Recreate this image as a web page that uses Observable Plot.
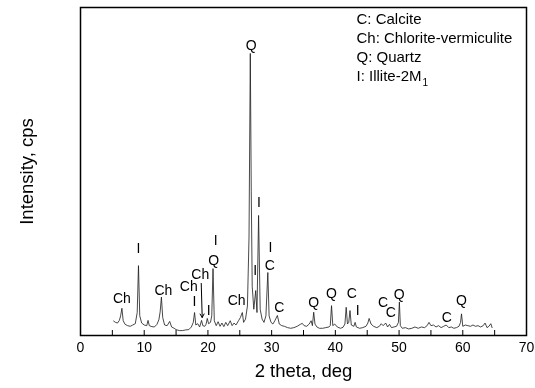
<!DOCTYPE html>
<html><head><meta charset="utf-8">
<script src="https://cdn.jsdelivr.net/npm/d3@7"></script>
<script src="https://cdn.jsdelivr.net/npm/@observablehq/plot@0.6"></script>
<style>
body{margin:0;background:#fff;}
svg{display:block;font-family:"Liberation Sans",Arial,sans-serif;filter:grayscale(1);}
</style>
</head><body><div id="chart"></div>
<script>
// XRD pattern (2θ in degrees, intensity in arbitrary cps units)
const twoTheta = [5.2,5.5,5.8,6.1,6.3,6.5,6.7,7.0,7.4,7.8,8.2,8.6,8.9,9.1,9.3,9.6,10.0,10.4,10.6,10.8,11.2,11.6,12.0,12.3,12.5,12.7,12.9,13.2,13.6,14.0,14.3,14.7,15.0,15.5,16.0,16.5,17.0,17.4,17.7,17.9,18.1,18.4,18.7,19.0,19.2,19.5,19.7,19.9,20.1,20.4,20.6,20.8,21.0,21.3,21.6,21.9,22.2,22.5,22.8,23.1,23.5,23.8,24.1,24.4,24.8,25.1,25.4,25.6,25.9,26.2,26.45,26.65,26.8,26.95,27.2,27.5,27.7,27.95,28.2,28.5,28.8,29.1,29.4,29.6,29.9,30.2,30.5,30.9,31.2,31.6,32.0,32.5,33.0,33.5,34.0,34.5,34.8,35.1,35.5,35.9,36.2,36.4,36.6,36.8,37.1,37.5,38.0,38.5,39.0,39.2,39.4,39.6,39.9,40.3,40.8,41.2,41.5,41.7,41.9,42.1,42.3,42.5,42.9,43.1,43.3,43.8,44.3,44.8,45.1,45.3,45.6,46.0,46.5,46.9,47.2,47.5,47.9,48.2,48.5,48.8,49.2,49.6,49.9,50.05,50.2,50.5,51.0,51.5,52.0,52.5,53.0,53.5,54.0,54.4,54.7,55.0,55.4,55.8,56.2,56.6,57.0,57.4,57.8,58.2,58.6,59.0,59.4,59.65,59.8,60.0,60.4,60.8,61.2,61.6,62.0,62.4,62.8,63.2,63.5,63.8,64.1,64.4,64.6];
const intensity = [44,40,38,46,60,83,45,34,30,28,32,36,70,213,60,38,32,30,46,30,27,26,34,48,72,117,55,32,30,43,26,22,18,15,15,17,18,26,40,70,32,36,26,46,30,28,34,52,36,40,60,204,45,30,42,28,38,27,40,30,45,30,38,32,45,55,70,40,50,90,300,860,440,150,80,137,70,366,80,50,40,60,192,60,40,35,45,61,35,30,28,24,22,24,28,34,37,30,28,35,45,30,71,35,26,22,22,24,26,30,91,30,35,26,22,25,35,86,35,40,76,32,28,40,26,22,24,28,38,52,35,28,24,28,36,30,38,26,34,24,26,28,40,102,30,22,24,20,22,26,22,26,24,30,40,30,32,26,30,24,28,32,24,26,22,24,28,40,66,28,32,30,28,32,28,30,26,30,38,24,28,36,24];

const xTickValues = [0,10,20,30,40,50,60,70];
const minorTickValues = [5,15,25,35,45,55,65];

// peak annotations: text, 2θ, height (cps units)
const peakText  = ["Ch","I","Ch","Ch","I","Ch","I","Q","I","Ch","Q","I","I","I","C","C","Q","Q","C","I","C","C","Q","C","Q"];
const peakTheta = [6.5,9.1,13.0,17.0,17.9,18.8,20.1,20.9,21.2,24.5,26.8,27.4,28.0,29.8,29.7,31.2,36.6,39.4,42.6,43.5,47.5,48.7,50.0,57.5,59.8];
const peakLevel = [113,265,137,148,104,185,76,229,290,107,884,198,406,268,213,86,102,129,127,76,102,71,124,56,107];

// arrow from the upper "Ch" label down to its peak
const arrowTheta = [18.95, 19.1];
const arrowLevel = [159, 55];

const legendLines = ["C: Calcite","Ch: Chlorite-vermiculite","Q: Quartz","I: Illite-2M"];
const legendSub = "1";

const xLabel = "2 theta, deg";
const yLabel = "Intensity, cps";

const pattern = twoTheta.map((t, i) => ({t, v: intensity[i]}));
const peaks = peakText.map((s, i) => ({s, t: peakTheta[i], v: peakLevel[i]}));

const legendMarks = legendLines.map((s, i) =>
  Plot.text([s], {frameAnchor: "top-left", dx: 276, dy: 12 + i * 19, textAnchor: "start", lineAnchor: "middle", fontSize: 15, fill: "#000"})
);

const chart = Plot.plot({
  width: 535,
  height: 388,
  marginLeft: 80,
  marginRight: 9,
  marginTop: 7,
  marginBottom: 53,
  style: {fontFamily: "Liberation Sans, Arial, sans-serif", background: "#fff"},
  x: {domain: [0, 70]},
  y: {domain: [0, 1000]},
  marks: [
    Plot.line(pattern, {x: "t", y: "v", stroke: "#1a1a1a", strokeWidth: 0.8}),
    Plot.ruleX(xTickValues, {x: d => d, insetTop: 323, stroke: "#000", strokeWidth: 1}),
    Plot.ruleX(minorTickValues, {x: d => d, insetTop: 323, stroke: "#000", strokeWidth: 1}),
    Plot.frame({stroke: "#000", strokeWidth: 1.5}),
    Plot.axisX({ticks: xTickValues, tickSize: 0, tickPadding: 7, fontSize: 14, label: null, tickFormat: d => String(d)}),
    Plot.axisY({ticks: [], label: null}),
    Plot.text(peaks, {x: "t", y: "v", text: "s", fontSize: 14, fill: "#000"}),
    Plot.arrow([0], {x1: () => arrowTheta[0], y1: () => arrowLevel[0], x2: () => arrowTheta[1], y2: () => arrowLevel[1], stroke: "#000", strokeWidth: 1, headLength: 6}),
    ...legendMarks,
    Plot.text([legendSub], {frameAnchor: "top-left", dx: 342, dy: 12 + 3 * 19 + 6, textAnchor: "start", lineAnchor: "middle", fontSize: 10, fill: "#000"}),
    Plot.text([xLabel], {frameAnchor: "bottom", dy: 41, textAnchor: "middle", fontSize: 18.5, fill: "#000"}),
    Plot.text([yLabel], {frameAnchor: "left", dx: -53, rotate: -90, textAnchor: "middle", fontSize: 18.5, fill: "#000"})
  ]
});
document.getElementById("chart").append(chart);
</script>
</body></html>
